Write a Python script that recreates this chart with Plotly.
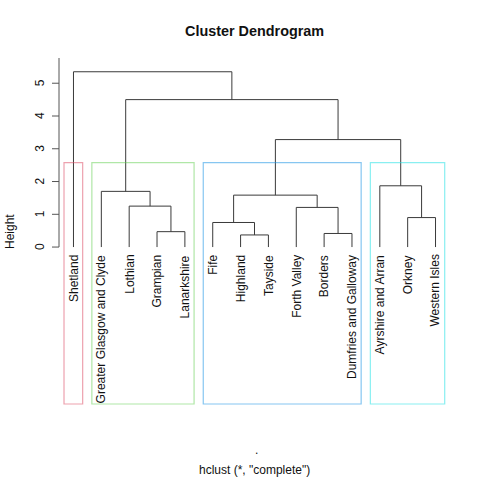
import plotly.graph_objects as go

# ---- data ----
leaf_labels = ["Shetland", "Greater Glasgow and Clyde", "Lothian", "Grampian",
               "Lanarkshire", "Fife", "Highland", "Tayside", "Forth Valley",
               "Borders", "Dumfries and Galloway", "Ayrshire and Arran",
               "Orkney", "Western Isles"]
# merges (R hclust style): negative = leaf (1-based position in leaf_labels), positive = earlier merge
merge_a = [-7, -10, -4, -6, -13, -9, -3, 4, -2, -12, 8, 9, -1]
merge_b = [-8, -11, -5, 1, -14, 2, 3, 6, 7, 5, 10, 11, 12]
merge_height = [0.37, 0.415, 0.47, 0.75, 0.90, 1.21, 1.25, 1.585, 1.70, 1.87, 3.28, 4.50, 5.35]
cluster_sizes = [1, 4, 6, 3]
cluster_colors = ["rgba(223,83,107,0.55)", "rgba(97,208,79,0.5)",
                  "rgba(34,151,230,0.55)", "rgba(40,226,229,0.55)"]
y_ticks = [0, 1, 2, 3, 4, 5]

# ---- geometry ----
W, H = 480, 480
L, R, T, B = 59, 30, 58, 75
XR = [0.48, 14.52]
YR = [-4.82, 5.77]
pw, ph = W - L - R, H - T - B


def paper(px, py):
    return (px - L) / pw, (H - B - py) / ph


node_x, node_h = {}, {}


def pos(ref):
    if ref < 0:
        return float(-ref), 0.0
    return node_x[ref], node_h[ref]


xs, ys = [], []
for i, (a, b, h) in enumerate(zip(merge_a, merge_b, merge_height), start=1):
    xa, ha = pos(a)
    xb, hb = pos(b)
    xs += [xa, xa, xb, xb, None]
    ys += [ha, h, h, hb, None]
    node_x[i] = (xa + xb) / 2
    node_h[i] = h

fig = go.Figure()
fig.add_trace(go.Scatter(x=xs, y=ys, mode="lines",
                         line=dict(color="#3a3a3a", width=1),
                         hoverinfo="skip", showlegend=False))

shapes = []
# y axis line and ticks
shapes.append(dict(type="line", xref="paper", yref="y", x0=0, x1=0,
                   y0=0, y1=YR[1], line=dict(color="#555", width=1)))
annotations = []
for t in y_ticks:
    shapes.append(dict(type="line", xref="paper", yref="y",
                       x0=-7 / pw, x1=0, y0=t, y1=t,
                       line=dict(color="#555", width=1)))
    annotations.append(dict(x=(40 - L) / pw, y=t, xref="paper", yref="y",
                            text=str(t), showarrow=False, textangle=-90,
                            xanchor="center", yanchor="middle",
                            font=dict(size=12, color="#111")))

# cluster rectangles (rect.hclust style)
rect_top = (merge_height[-4] + merge_height[-3]) / 2
m = 0
for size, col in zip(cluster_sizes, cluster_colors):
    shapes.append(dict(type="rect", xref="x", yref="y",
                       x0=m + 0.66, x1=m + size + 0.33,
                       y0=YR[0] + 0.03, y1=rect_top,
                       line=dict(color=col, width=1.2)))
    m += size

# leaf labels
for i, lab in enumerate(leaf_labels, start=1):
    annotations.append(dict(x=i, y=0, xref="x", yref="y", text=lab,
                            showarrow=False, textangle=-90,
                            xanchor="center", yanchor="top", yshift=-6,
                            font=dict(size=12, color="#111")))

# titles
px_, py_ = paper(254, 31)
annotations.append(dict(x=px_, y=py_, xref="paper", yref="paper",
                        text="<b>Cluster Dendrogram</b>", showarrow=False,
                        xanchor="center", yanchor="middle",
                        font=dict(size=14.4, color="#111")))
px_, py_ = paper(10, 232)
annotations.append(dict(x=px_, y=py_, xref="paper", yref="paper",
                        text="Height", showarrow=False, textangle=-90,
                        xanchor="center", yanchor="middle",
                        font=dict(size=12, color="#111")))
px_, py_ = paper(256, 450)
annotations.append(dict(x=px_, y=py_, xref="paper", yref="paper",
                        text=".", showarrow=False,
                        xanchor="center", yanchor="middle",
                        font=dict(size=12, color="#111")))
px_, py_ = paper(254, 470)
annotations.append(dict(x=px_, y=py_, xref="paper", yref="paper",
                        text='hclust (*, "complete")', showarrow=False,
                        xanchor="center", yanchor="middle",
                        font=dict(size=12, color="#111")))

fig.update_layout(
    width=W, height=H,
    margin=dict(l=L, r=R, t=T, b=B, pad=0),
    paper_bgcolor="white", plot_bgcolor="white",
    font=dict(family="Liberation Sans, Arial, sans-serif", size=12, color="#111"),
    xaxis=dict(range=XR, visible=False, fixedrange=True),
    yaxis=dict(range=YR, visible=False, fixedrange=True),
    shapes=shapes, annotations=annotations,
    showlegend=False,
)

fig.write_html("out.html")
